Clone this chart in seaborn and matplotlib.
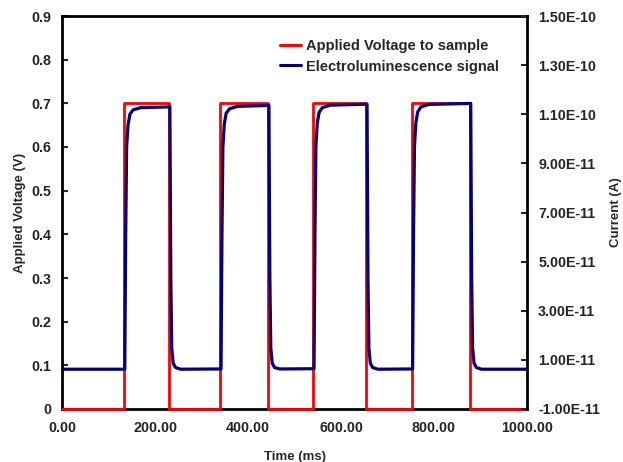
import numpy as np
import pandas as pd
import matplotlib
matplotlib.use("Agg")
import matplotlib.pyplot as plt
from matplotlib.ticker import FuncFormatter, MultipleLocator
from matplotlib.lines import Line2D
import seaborn as sns

# applied voltage square wave (ms, V)
volt_time = [0, 133, 133, 230, 230, 340, 340, 443, 443, 540, 540, 654, 654, 752, 752, 877, 877, 1000]
volt_value = [0, 0, 0.70, 0.70, 0, 0, 0.70, 0.70, 0, 0, 0.70, 0.70, 0, 0, 0.70, 0.70, 0, 0]

# electroluminescence signal (ms, A)
el_time = [0,
           135, 137, 139, 142, 146, 153, 170, 232, 234, 236, 239, 244, 255,
           342, 344, 346, 349, 353, 360, 377, 445, 447, 449, 452, 457, 468,
           542, 544, 546, 549, 553, 560, 577, 656, 658, 660, 663, 668, 679,
           754, 756, 758, 761, 765, 772, 789, 879, 881, 883, 886, 891, 902,
           1000]
el_value = [6.2e-12,
            6.2e-12, 6.11e-11, 9.67e-11, 1.056e-10, 1.100e-10, 1.118e-10, 1.127e-10, 1.130e-10,
            4.33e-11, 1.49e-11, 8.7e-12, 6.9e-12, 6.2e-12,
            6.3e-12, 6.11e-11, 9.67e-11, 1.060e-10, 1.104e-10, 1.122e-10, 1.132e-10, 1.136e-10,
            4.33e-11, 1.49e-11, 8.7e-12, 6.9e-12, 6.3e-12,
            6.4e-12, 6.11e-11, 9.70e-11, 1.064e-10, 1.108e-10, 1.127e-10, 1.137e-10, 1.141e-10,
            4.33e-11, 1.49e-11, 8.7e-12, 6.9e-12, 6.2e-12,
            6.3e-12, 6.11e-11, 9.70e-11, 1.066e-10, 1.110e-10, 1.130e-10, 1.140e-10, 1.144e-10,
            4.33e-11, 1.49e-11, 8.7e-12, 6.9e-12, 6.2e-12,
            6.2e-12]

sns.set_style("white")
plt.rcParams['font.family'] = ['Liberation Sans', 'DejaVu Sans']
plt.rcParams['font.weight'] = 'bold'

fig = plt.figure(figsize=(6.23, 4.62), dpi=100)
ax = fig.add_axes([62 / 623, 1 - 409 / 462, 465 / 623, 393 / 462])
ax2 = ax.twinx()

# red on the voltage axis, drawn over the bottom spine
sns.lineplot(x=volt_time, y=volt_value, ax=ax, color='#ff0000', linewidth=2.0,
             estimator=None, sort=False, zorder=3, clip_on=False)
# blue on the current axis, drawn over the red
sns.lineplot(x=el_time, y=el_value, ax=ax2, color='#000080', linewidth=2.3,
             estimator=None, sort=False)

ax.set_xlim(0, 1000)
ax.set_ylim(0, 0.9)
ax2.set_ylim(-1e-11, 1.5e-10)
ax.xaxis.set_major_locator(MultipleLocator(200))
ax.yaxis.set_major_locator(MultipleLocator(0.1))
ax2.set_yticks(np.arange(-1e-11, 1.51e-10, 2e-11))
ax.xaxis.set_major_formatter(FuncFormatter(lambda v, p: f"{v:.2f}"))
ax.yaxis.set_major_formatter(FuncFormatter(lambda v, p: "0" if abs(v) < 1e-9 else f"{v:.1f}"))
ax2.yaxis.set_major_formatter(FuncFormatter(lambda v, p: f"{v:.2E}"))

for a in (ax, ax2):
    for s in a.spines.values():
        s.set_linewidth(2)
        s.set_color('black')
    a.tick_params(direction='in', length=4, width=1.5, labelsize=10.3)
for s in ax.spines.values():
    s.set_zorder(1)
for k in ('left', 'bottom', 'top'):
    ax2.spines[k].set_visible(False)
ax.spines['right'].set_visible(False)

ax.tick_params(axis='x', pad=9)
ax.tick_params(axis='y', pad=7.5)
ax2.tick_params(axis='y', pad=8)

ax.set_xlabel("Time (ms)", fontweight='bold', fontsize=9.5, labelpad=11)
ax.set_ylabel("Applied Voltage (V)", fontweight='bold', fontsize=9.5, labelpad=4)
ax2.set_ylabel("Current (A)", fontweight='bold', fontsize=9.5, labelpad=7)

handles = [Line2D([], [], color='#ff0000', linewidth=2.2),
           Line2D([], [], color='#000080', linewidth=2.2)]
ax2.legend(handles, ["Applied Voltage to sample", "Electroluminescence signal"],
           loc='upper left', bbox_to_anchor=(0.44, 0.975), frameon=False,
           handlelength=1.45, handletextpad=0.35, labelspacing=0.45,
           prop={'weight': 'bold', 'size': 10.5})

fig.savefig("out.png", dpi=100)
